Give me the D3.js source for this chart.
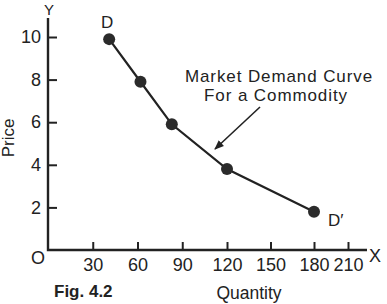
<!DOCTYPE html>
<html>
<head>
<meta charset="utf-8">
<script src="https://cdn.jsdelivr.net/npm/d3@7"></script>
<style>
  body { margin: 0; background: #fff; }
  svg { display: block; font-family: 'Liberation Sans', Arial, sans-serif; }
  .axis text { font-size: 18px; fill: #222; }
  .axis line { stroke: #222; stroke-width: 2; }
</style>
</head>
<body>
<svg id="chart" width="387" height="304"></svg>
<script>
// demand schedule
const quantity = [41, 62, 83, 120, 180];
const price = [9.9, 7.9, 5.9, 3.8, 1.8];
const xTicks = [30, 60, 90, 120, 150, 180, 210];
const yTicks = [2, 4, 6, 8, 10];
const pointLabels = ['D', '', '', '', 'D\u2032'];

const svg = d3.select('#chart');
const ink = '#222';

// the printed axis is slightly uneven, so the x scale is piecewise
const x = d3.scaleLinear()
  .domain([0, 120, 180, 210])
  .range([48, 227, 314, 348]);

const y = d3.scaleLinear()
  .domain([0, 10])
  .range([250, 37]);

const data = quantity.map((q, i) => ({ q, p: price[i], label: pointLabels[i] }));

// axes
const gx = svg.append('g')
  .attr('class', 'axis')
  .attr('transform', `translate(0,${y(0)})`)
  .call(d3.axisBottom(x).tickValues(xTicks).tickSize(-8).tickSizeOuter(0).tickPadding(8));
gx.select('.domain').remove();

const gy = svg.append('g')
  .attr('class', 'axis')
  .attr('transform', `translate(${x(0)},0)`)
  .call(d3.axisLeft(y).tickValues(yTicks).tickSize(-9).tickSizeOuter(0).tickPadding(7));
gy.select('.domain').remove();

svg.append('path')
  .attr('d', `M${x(0)},18V${y(0)}H367`)
  .attr('fill', 'none')
  .attr('stroke', ink)
  .attr('stroke-width', 2.4);

// axis letters
svg.append('text').attr('x', x(0) + 1).attr('y', 15).attr('text-anchor', 'middle')
  .attr('font-size', 15).attr('fill', ink).text('Y');
svg.append('text').attr('x', 375).attr('y', 262).attr('text-anchor', 'middle')
  .attr('font-size', 18).attr('fill', ink).text('X');
svg.append('text').attr('x', 38).attr('y', 264).attr('text-anchor', 'middle')
  .attr('font-size', 18).attr('fill', ink).text('O');

// axis titles
svg.append('text')
  .attr('transform', 'translate(14,138) rotate(-90)')
  .attr('text-anchor', 'middle')
  .attr('font-size', 17).attr('fill', ink).text('Price');
svg.append('text').attr('x', 249).attr('y', 299).attr('text-anchor', 'middle')
  .attr('font-size', 17.5).attr('fill', ink).text('Quantity');
svg.append('text').attr('x', 54).attr('y', 297)
  .attr('font-size', 17).attr('font-weight', 'bold').attr('fill', ink).text('Fig. 4.2');

// curve
svg.append('path')
  .datum(data)
  .attr('fill', 'none')
  .attr('stroke', ink)
  .attr('stroke-width', 2.2)
  .attr('d', d3.line().x(d => x(d.q)).y(d => y(d.p)));

svg.selectAll('.pt')
  .data(data)
  .enter().append('circle')
  .attr('class', 'pt')
  .attr('cx', d => x(d.q))
  .attr('cy', d => y(d.p))
  .attr('r', 6)
  .attr('fill', '#2b2b2b');

svg.append('text').attr('x', x(data[0].q) - 2).attr('y', y(data[0].p) - 11)
  .attr('text-anchor', 'middle').attr('font-size', 17).attr('fill', ink).text(data[0].label);
svg.append('text').attr('x', x(data[4].q) + 14).attr('y', y(data[4].p) + 14)
  .attr('font-size', 17).attr('fill', ink).text(data[4].label);

// annotation
svg.append('defs').append('marker')
  .attr('id', 'arrow')
  .attr('viewBox', '0 0 10 10')
  .attr('refX', 9).attr('refY', 5)
  .attr('markerWidth', 6).attr('markerHeight', 6)
  .attr('orient', 'auto')
  .append('path')
  .attr('d', 'M0,1L10,5L0,9Z')
  .attr('fill', ink);

const note = svg.append('text')
  .attr('text-anchor', 'middle')
  .attr('font-size', 17)
  .attr('letter-spacing', 0.9)
  .attr('fill', ink);
note.append('tspan').attr('x', 279).attr('y', 82).text('Market Demand Curve');
note.append('tspan').attr('x', 276).attr('y', 101).text('For a Commodity');

svg.append('line')
  .attr('x1', 260).attr('y1', 107)
  .attr('x2', 215).attr('y2', 149)
  .attr('stroke', ink)
  .attr('stroke-width', 1.6)
  .attr('marker-end', 'url(#arrow)');
</script>
</body>
</html>
